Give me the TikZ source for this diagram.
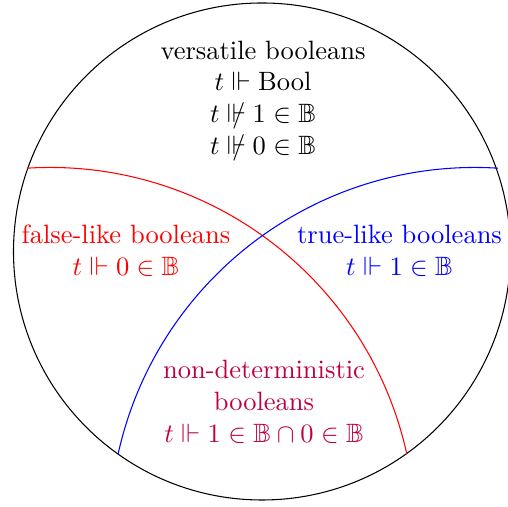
\documentclass[tikz,border=0pt]{standalone}
\usepackage{amsmath, amssymb}
\usepackage{tikz}
\usetikzlibrary{calc,positioning}
\newcommand{\nforces}{\mathrel{{\Vdash}\mkern-9.5mu{/}}}

\begin{document}
\begin{tikzpicture}[x=0.3774pt, y=0.3774pt]
\useasboundingbox (0,0) rectangle (508,507);

\draw (262,255.5) circle (248.5);
\draw[red] (27,338.8) arc[start angle=93.6, end angle=12.5, radius=365.5];
\draw[blue] (497.9,338.8) arc[start angle=86.4, end angle=167.5, radius=365.5];
%\draw[help lines] (0,0) grid (508,507);

\node[align=center] (versatile) at (263,406) {versatile booleans\\ $t \Vdash \mathrm{Bool}$\\ $t \nforces 1 \in \mathbb{B}$\\ $t \nforces 0 \in \mathbb{B}$};
\node[align=center, red] (falselike) at (126,256) {false-like booleans\\ $t \Vdash 0 \in \mathbb{B}$};
\node[align=center, blue] (truelike) at (399.5,256) {true-like booleans\\ $t \Vdash 1 \in \mathbb{B}$};
\node[align=center, purple] (nondet) at (264,105) {non-deterministic\\ booleans\\ $t \Vdash 1 \in \mathbb{B} \cap 0 \in \mathbb{B}$};
\end{tikzpicture}
\end{document}
